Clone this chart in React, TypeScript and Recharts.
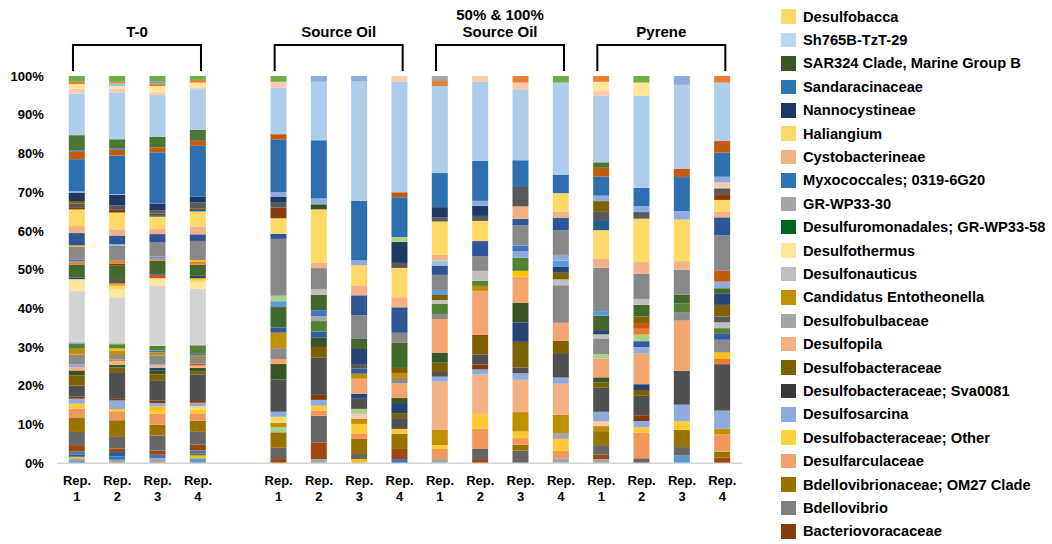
import React from "react";
import { BarChart, Bar, XAxis, YAxis, Cell, ReferenceLine } from "recharts";

type Seg = [string, number];

const FONT = "'Liberation Sans', Arial, sans-serif";

// relative abundance (%) per library, bottom of the bar first
// o1..o23 are the minor taxa that are not listed in the legend
const t0Rep1: Seg[] = [
  ["o1", 0.6], ["o2", 0.7], ["o3", 0.4], ["o4", 0.6], ["o5", 0.7], ["bvora", 1.7], ["bdello", 3.4], ["om27", 3.6],
  ["darcu", 2.4], ["dother", 1.3], ["dsarc", 1.3], ["o6", 0.6], ["sva", 2.8], ["dbact", 2.6], ["o7", 1.3], ["dpila", 0.9],
  ["o9", 0.7], ["dbulb", 2.5], ["ento", 1.5], ["o8", 1.4], ["o18", 0.4], ["dnaut", 13.1], ["dthermus", 2.7], ["o11", 0.4],
  ["o10", 0.4], ["gr58", 3.4], ["o15", 0.8], ["o5", 0.5], ["gr30", 3.2], ["o3", 0.4], ["myxo", 3.2], ["cysto", 1.8],
  ["halia", 4.3], ["o6", 0.6], ["o12", 0.9], ["o13", 0.7], ["nanno", 2.1], ["o9", 0.4], ["sanda", 8.3], ["o14", 1.9],
  ["o5", 0.3], ["sar324", 4.0], ["sh765", 10.8], ["o11", 1.3], ["bacca", 1.1], ["o15", 0.6], ["o16", 1.5],
];
const t0Rep2: Seg[] = [
  ["o2", 0.9], ["o5", 0.9], ["o4", 1.1], ["bvora", 0.9], ["bdello", 3.0], ["om27", 4.3], ["darcu", 2.3], ["dother", 0.6],
  ["dsarc", 2.2], ["o6", 0.4], ["sva", 6.9], ["dbact", 1.2], ["o7", 0.7], ["dpila", 0.9], ["o15", 0.4], ["dbulb", 1.2],
  ["ento", 1.2], ["o3", 0.5], ["o8", 0.9], ["o16", 0.4], ["dnaut", 11.9], ["dthermus", 2.1], ["o17", 0.7], ["o3", 0.4],
  ["o15", 0.4], ["o12", 1.1], ["gr58", 3.4], ["o6", 0.5], ["o15", 0.8], ["gr30", 3.9], ["o9", 0.4], ["myxo", 2.2],
  ["cysto", 1.6], ["halia", 4.3], ["o6", 0.7], ["o12", 1.1], ["nanno", 2.8], ["o9", 0.2], ["sanda", 9.9], ["o14", 1.5],
  ["o5", 0.4], ["sar324", 2.3], ["sh765", 12.1], ["o11", 1.0], ["bacca", 0.6], ["o18", 0.7], ["o15", 0.4], ["o16", 1.5],
];
const t0Rep3: Seg[] = [
  ["o2", 1.3], ["o5", 0.9], ["bvora", 1.1], ["bdello", 3.9], ["om27", 2.8], ["darcu", 2.8], ["dother", 1.0], ["o3", 0.9],
  ["dsarc", 0.9], ["o6", 0.7], ["sva", 5.2], ["dbact", 1.5], ["o7", 1.1], ["o10", 0.6], ["dpila", 0.6], ["o9", 0.4],
  ["dbulb", 2.2], ["ento", 0.8], ["o5", 0.5], ["o8", 1.2], ["dnaut", 15.6], ["dthermus", 1.6], ["o11", 0.3], ["o14", 0.9],
  ["o10", 0.4], ["gr58", 3.2], ["o15", 0.5], ["o1", 0.6], ["gr30", 3.6], ["myxo", 2.2], ["cysto", 1.3], ["halia", 3.2],
  ["o4", 0.4], ["o6", 0.4], ["o12", 0.9], ["nanno", 1.7], ["sanda", 13.3], ["o14", 1.2], ["sar324", 2.8], ["sh765", 10.8],
  ["o11", 0.7], ["bacca", 1.6], ["o15", 0.7], ["o1", 0.4], ["o16", 1.5],
];
const t0Rep4: Seg[] = [
  ["o1", 1.3], ["o3", 0.7], ["o8", 0.6], ["o5", 0.7], ["bvora", 1.5], ["bdello", 3.3], ["om27", 2.9], ["darcu", 1.7],
  ["dother", 1.1], ["o17", 0.9], ["dsarc", 0.9], ["o6", 0.7], ["sva", 6.6], ["dbact", 0.7], ["o7", 1.0], ["dpila", 0.6],
  ["o14", 0.5], ["dbulb", 1.7], ["ento", 0.5], ["o5", 0.5], ["o8", 2.0], ["dnaut", 14.5], ["dthermus", 1.7], ["o17", 0.7],
  ["o3", 0.4], ["o10", 0.6], ["gr58", 2.9], ["o15", 0.8], ["o3", 0.4], ["gr30", 4.9], ["myxo", 1.7], ["cysto", 2.0],
  ["halia", 3.9], ["o4", 0.4], ["o6", 0.4], ["o12", 1.5], ["nanno", 1.5], ["sanda", 13.1], ["o14", 1.3], ["sar324", 2.8],
  ["sh765", 10.5], ["o11", 0.5], ["bacca", 1.2], ["o15", 0.7], ["o16", 1.0],
];
const soRep1: Seg[] = [
  ["bvora", 1.1], ["bdello", 2.9], ["om27", 4.0], ["o19", 1.3], ["o22", 1.2], ["o17", 1.5], ["dsarc", 1.3], ["sva", 8.3],
  ["o7", 4.0], ["o23", 1.3], ["dbulb", 2.8], ["ento", 4.0], ["o21", 1.3], ["gr58", 5.3], ["o1", 1.5], ["o19", 1.4],
  ["gr30", 14.7], ["myxo", 1.3], ["halia", 4.0], ["o6", 2.8], ["o12", 1.2], ["nanno", 1.5], ["o9", 1.3], ["sanda", 13.5],
  ["o14", 1.4], ["sh765", 12.0], ["o11", 1.5], ["o16", 1.5],
];
const soRep2: Seg[] = [
  ["o2", 1.1], ["bvora", 4.3], ["bdello", 6.9], ["darcu", 1.3], ["dother", 1.3], ["dsarc", 1.5], ["o6", 1.3], ["sva", 9.6],
  ["dbact", 2.8], ["o7", 2.4], ["o21", 1.6], ["o8", 2.7], ["o2", 1.3], ["o5", 1.5], ["gr58", 4.0], ["o20", 1.4],
  ["gr30", 5.5], ["cysto", 1.4], ["halia", 13.8], ["o7", 1.3], ["o9", 1.5], ["sanda", 15.1], ["sh765", 15.1], ["o9", 1.5],
];
const soRep3: Seg[] = [
  ["o3", 1.1], ["bdello", 1.3], ["om27", 3.9], ["darcu", 1.3], ["dother", 2.6], ["o22", 1.3], ["o11", 1.3], ["o19", 1.3],
  ["sva", 2.6], ["o10", 1.3], ["o23", 3.9], ["ento", 1.3], ["o21", 1.3], ["o12", 1.2], ["o10", 3.9], ["gr58", 2.6],
  ["gr30", 6.1], ["myxo", 5.2], ["cysto", 2.6], ["halia", 5.2], ["o9", 1.3], ["sanda", 15.4], ["sh765", 31.0], ["o9", 1.3],
];
const soRep4: Seg[] = [
  ["o5", 1.1], ["bvora", 2.6], ["om27", 3.9], ["dother", 1.3], ["sva", 2.8], ["dbact", 1.3], ["o10", 2.6], ["o7", 1.3],
  ["o23", 3.9], ["dbulb", 1.3], ["ento", 1.3], ["o13", 1.3], ["gr58", 6.5], ["gr30", 2.6], ["myxo", 6.6], ["cysto", 2.6],
  ["halia", 7.6], ["o12", 1.3], ["nanno", 5.4], ["o19", 1.3], ["sanda", 10.3], ["o14", 1.3], ["sh765", 28.6], ["o11", 1.5],
];
const mixRep1: Seg[] = [
  ["o2", 1.1], ["darcu", 2.6], ["dother", 1.0], ["o22", 3.9], ["dpila", 12.5], ["dsarc", 1.3], ["sva", 1.2], ["dbact", 2.4],
  ["o7", 2.6], ["o23", 8.7], ["dbulb", 1.3], ["o8", 2.6], ["o20", 1.0], ["o13", 1.3], ["o1", 1.3], ["gr30", 3.9],
  ["myxo", 2.4], ["o18", 1.3], ["cysto", 1.5], ["halia", 8.6], ["o12", 1.1], ["nanno", 2.6], ["sanda", 8.8], ["sh765", 22.5],
  ["o15", 1.3], ["o2", 1.3],
];
const mixRep2: Seg[] = [
  ["bvora", 1.1], ["bdello", 2.6], ["darcu", 5.2], ["dother", 3.9], ["dpila", 10.2], ["dsarc", 1.3], ["o6", 1.3], ["sva", 2.6],
  ["dbact", 5.0], ["o23", 11.4], ["ento", 1.3], ["o8", 1.3], ["o20", 2.6], ["gr30", 3.8], ["myxo", 3.9], ["halia", 5.2],
  ["o12", 1.3], ["nanno", 2.6], ["o9", 1.3], ["sanda", 10.3], ["sh765", 20.5], ["o11", 1.5],
];
const mixRep3: Seg[] = [
  ["bdello", 3.3], ["om27", 1.5], ["darcu", 1.7], ["dother", 1.7], ["o22", 5.0], ["dpila", 8.3], ["dsarc", 1.7], ["sva", 1.5],
  ["dbact", 6.6], ["o10", 5.0], ["o7", 5.1], ["o23", 6.7], ["o3", 1.5], ["o8", 3.4], ["o9", 1.6], ["o5", 1.5],
  ["gr30", 5.2], ["myxo", 1.7], ["cysto", 3.2], ["o12", 5.0], ["sanda", 6.9], ["sh765", 18.1], ["o11", 1.9], ["o15", 1.7],
];
const mixRep4: Seg[] = [
  ["o2", 1.3], ["darcu", 1.9], ["dother", 3.1], ["o2", 1.5], ["o22", 4.7], ["dpila", 8.0], ["dsarc", 1.6], ["sva", 6.3],
  ["dbact", 3.2], ["o23", 4.6], ["dbulb", 9.7], ["o20", 1.5], ["o13", 1.7], ["o10", 1.5], ["o1", 1.6], ["o9", 1.5],
  ["gr30", 6.3], ["myxo", 3.2], ["cysto", 1.7], ["halia", 4.7], ["sanda", 4.7], ["sh765", 23.8], ["o16", 1.7],
];
const pyRep1: Seg[] = [
  ["o2", 1.1], ["bvora", 1.2], ["bdello", 2.4], ["om27", 3.6], ["o22", 1.3], ["o11", 1.3], ["dsarc", 2.4], ["sva", 6.2],
  ["dbact", 1.4], ["o7", 1.3], ["o23", 4.9], ["o19", 1.1], ["dbulb", 3.9], ["o20", 1.2], ["o10", 1.1], ["gr58", 3.7],
  ["o1", 1.2], ["gr30", 11.2], ["cysto", 2.4], ["halia", 7.3], ["o4", 2.6], ["o12", 2.3], ["o13", 2.6], ["o9", 1.4],
  ["sanda", 4.9], ["o14", 2.3], ["sar324", 1.4], ["sh765", 17.2], ["o11", 1.2], ["bacca", 2.4], ["o15", 1.5],
];
const pyRep2: Seg[] = [
  ["bdello", 1.3], ["darcu", 6.6], ["dother", 1.4], ["dsarc", 1.6], ["o6", 1.5], ["sva", 5.0], ["dbact", 1.5], ["o10", 1.5],
  ["o23", 7.9], ["o9", 1.7], ["o21", 1.5], ["o19", 1.7], ["o15", 1.5], ["o14", 1.5], ["o13", 1.7], ["gr58", 3.0],
  ["o20", 1.5], ["gr30", 6.5], ["cysto", 3.0], ["halia", 11.2], ["o12", 1.7], ["o9", 1.5], ["sanda", 4.7], ["sh765", 23.8],
  ["bacca", 3.4], ["o16", 1.7],
];
const pyRep3: Seg[] = [
  ["o1", 2.0], ["bdello", 2.2], ["om27", 4.5], ["dother", 2.2], ["dsarc", 4.3], ["sva", 8.8], ["o23", 13.0], ["dbulb", 2.2],
  ["o8", 2.2], ["gr58", 2.3], ["gr30", 6.5], ["cysto", 2.2], ["halia", 10.8], ["o9", 2.2], ["sanda", 8.8], ["o14", 2.2],
  ["sh765", 21.7], ["o9", 2.3],
];
const pyRep4: Seg[] = [
  ["bvora", 1.5], ["om27", 1.5], ["darcu", 4.5], ["o22", 1.4], ["dsarc", 4.7], ["sva", 12.0], ["o15", 1.5], ["o3", 1.5],
  ["dbulb", 3.3], ["o21", 1.5], ["o8", 1.5], ["o20", 1.5], ["o12", 1.5], ["o13", 3.0], ["o10", 3.0], ["gr58", 1.3],
  ["o9", 1.7], ["o14", 2.8], ["gr30", 9.2], ["myxo", 4.6], ["cysto", 1.5], ["halia", 3.0], ["o6", 1.5], ["o12", 1.5],
  ["o11", 1.5], ["o9", 1.5], ["sanda", 6.2], ["o14", 3.0], ["sh765", 15.1], ["o15", 1.7],
];

// one empty slot separates T-0 from the oil treatments
const categories = [
  "T0_1", "T0_2", "T0_3", "T0_4", "gap",
  "SO_1", "SO_2", "SO_3", "SO_4",
  "MIX_1", "MIX_2", "MIX_3", "MIX_4",
  "PY_1", "PY_2", "PY_3", "PY_4",
];
const repLabels = ["1", "2", "3", "4", "", "1", "2", "3", "4", "1", "2", "3", "4", "1", "2", "3", "4"];
const compositions: Seg[][] = [
  t0Rep1, t0Rep2, t0Rep3, t0Rep4, [],
  soRep1, soRep2, soRep3, soRep4,
  mixRep1, mixRep2, mixRep3, mixRep4,
  pyRep1, pyRep2, pyRep3, pyRep4,
];

const groupTitles = [["T-0"], ["Source Oil"], ["50% & 100%", "Source Oil"], ["Pyrene"]];
const groupSpans = [["T0_1", "T0_4"], ["SO_1", "SO_4"], ["MIX_1", "MIX_4"], ["PY_1", "PY_4"]];

const yTicks = [0, 0.1, 0.2, 0.3, 0.4, 0.5, 0.6, 0.7, 0.8, 0.9, 1];

const taxonNames: Record<string, string> = {
  bacca: "Desulfobacca",
  sh765: "Sh765B-TzT-29",
  sar324: "SAR324 Clade, Marine Group B",
  sanda: "Sandaracinaceae",
  nanno: "Nannocystineae",
  halia: "Haliangium",
  cysto: "Cystobacterineae",
  myxo: "Myxococcales; 0319-6G20",
  gr30: "GR-WP33-30",
  gr58: "Desulfuromonadales; GR-WP33-58",
  dthermus: "Desulfothermus",
  dnaut: "Desulfonauticus",
  ento: "Candidatus Entotheonella",
  dbulb: "Desulfobulbaceae",
  dpila: "Desulfopila",
  dbact: "Desulfobacteraceae",
  sva: "Desulfobacteraceae; Sva0081",
  dsarc: "Desulfosarcina",
  dother: "Desulfobacteraceae; Other",
  darcu: "Desulfarculaceae",
  om27: "Bdellovibrionaceae; OM27 Clade",
  bdello: "Bdellovibrio",
  bvora: "Bacteriovoracaceae",
};
const legendOrder = [
  "bacca", "sh765", "sar324", "sanda", "nanno", "halia", "cysto", "myxo", "gr30", "gr58", "dthermus", "dnaut",
  "ento", "dbulb", "dpila", "dbact", "sva", "dsarc", "dother", "darcu", "om27", "bdello", "bvora",
];

// segment colours
const fills: Record<string, string> = {
  bacca: "#FFE699", sh765: "#AECDEA", sar324: "#4B7631", sanda: "#2E6FB0", nanno: "#203864",
  halia: "#FFD966", cysto: "#F4B183", myxo: "#2F5597", gr30: "#888888", gr58: "#43682B",
  dthermus: "#FFE699", dnaut: "#D3D3D3", ento: "#BF9000", dbulb: "#8A8A8A", dpila: "#F4B183",
  dbact: "#7F6000", sva: "#505050", dsarc: "#8FAADC", dother: "#FFC936", darcu: "#F1975A",
  om27: "#997300", bdello: "#666666", bvora: "#9E480E",
  o1: "#5B9BD5", o2: "#A5A5A5", o3: "#FFC000", o4: "#255E91", o5: "#4472C4", o6: "#843C0C",
  o7: "#375623", o8: "#548235", o9: "#8FAADC", o10: "#264478", o11: "#F8CBAD", o12: "#595959",
  o13: "#806000", o14: "#C55A11", o15: "#ED7D31", o16: "#70AD47", o17: "#FFD966", o18: "#9DC3E6",
  o19: "#A9D18E", o20: "#BFBFBF", o21: "#335AA1", o22: "#BF9000", o23: "#F4A46F",
};
// legend swatch colours
const swatches: Record<string, string> = {
  bacca: "#FFD966", sh765: "#BDD7EE", sar324: "#375623", sanda: "#2E75B6", nanno: "#203864",
  halia: "#FFD966", cysto: "#F4B183", myxo: "#2E75B6", gr30: "#A5A5A5", gr58: "#00641E",
  dthermus: "#FFE699", dnaut: "#BFBFBF", ento: "#BF9000", dbulb: "#A5A5A5", dpila: "#F4B183",
  dbact: "#7F6000", sva: "#3A3838", dsarc: "#8FAADC", dother: "#FFD43B", darcu: "#F4A070",
  om27: "#997300", bdello: "#7F7F7F", bvora: "#843C0C",
};

const slotCount = Math.max(...compositions.map((c) => c.length));
const rows = categories.map((id, i) => {
  const row: Record<string, string | number> = { id };
  for (let k = 0; k < slotCount; k++) row[`s${k}`] = compositions[i][k] ? compositions[i][k][1] : 0;
  return row;
});

const RepTick = (props: any) => {
  const { x, y, payload } = props;
  const rep = repLabels[categories.indexOf(payload.value)];
  if (!rep) return null;
  return (
    <text x={x} y={y} textAnchor="middle" fontFamily={FONT} fontWeight={700} fontSize={13} fill="#000">
      <tspan x={x} dy={13.7}>Rep.</tspan>
      <tspan x={x} dy={16}>{rep}</tspan>
    </text>
  );
};

const bracket = (lines: string[]) => (p: any) => {
  const left = Math.min(p.x1, p.x2) - 4;
  const right = Math.max(p.x1, p.x2) + 3;
  const y = p.y1;
  return (
    <g>
      <path d={`M${left},${y + 26}V${y}H${right}V${y + 26}`} fill="none" stroke="#000" strokeWidth={2} />
      {lines.map((t, i) => (
        <text key={t} x={(left + right) / 2} y={y - 7.6 - (lines.length - 1 - i) * 17} textAnchor="middle"
          fontFamily={FONT} fontWeight={700} fontSize={15} fill="#000">
          {t}
        </text>
      ))}
    </g>
  );
};

export default function App() {
  return (
    <div style={{ position: "absolute", left: 0, top: 0, width: 1052, height: 544, background: "#fff", fontFamily: FONT }}>
      <BarChart width={1052} height={544} data={rows} stackOffset="expand"
        margin={{ top: 76, right: 309.5, bottom: 35.7, left: 0 }}>
        <XAxis dataKey="id" interval={0} height={45} tickLine={false}
          axisLine={{ stroke: "#D4D4D4", strokeWidth: 1.5 }} tick={<RepTick />} />
        <YAxis type="number" domain={[0, 1]} ticks={yTicks} width={56.8} axisLine={false} tickLine={false}
          tickMargin={7} tickFormatter={(v: number) => `${Math.round(v * 100)}%`}
          tick={{ fontSize: 13, fontWeight: 700, fill: "#000", fontFamily: FONT }} />
        {Array.from({ length: slotCount }, (_, k) => (
          <Bar key={k} dataKey={`s${k}`} stackId="taxa" barSize={16} isAnimationActive={false}>
            {compositions.map((c, i) => (
              <Cell key={i} fill={c[k] ? fills[c[k][0]] : "none"} />
            ))}
          </Bar>
        ))}
        {groupSpans.map(([from, to], g) => (
          <ReferenceLine key={from} ifOverflow="visible"
            segment={[{ x: from, y: 1.08 }, { x: to, y: 1.08 }]}
            shape={bracket(groupTitles[g])} />
        ))}
      </BarChart>
      <div style={{ position: "absolute", left: 781, top: 5 }}>
        {legendOrder.map((k) => (
          <div key={k} style={{ display: "flex", alignItems: "center", height: 23.4 }}>
            <span style={{ width: 14.5, height: 14.5, background: swatches[k], marginRight: 7.5 }} />
            <span style={{ fontSize: 14.7, fontWeight: 700, color: "#000", whiteSpace: "nowrap" }}>{taxonNames[k]}</span>
          </div>
        ))}
      </div>
    </div>
  );
}
